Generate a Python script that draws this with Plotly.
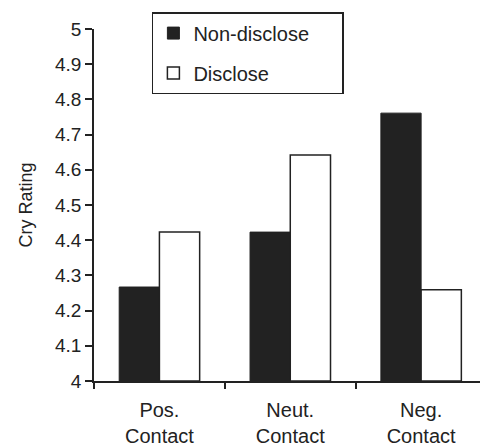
import plotly.graph_objects as go

categories = ["Pos.<br>Contact", "Neut.<br>Contact", "Neg.<br>Contact"]
series_names = ["Non-disclose", "Disclose"]
non_disclose = [4.267, 4.423, 4.761]
disclose = [4.423, 4.642, 4.259]
y_ticks = [4, 4.1, 4.2, 4.3, 4.4, 4.5, 4.6, 4.7, 4.8, 4.9, 5]
y_tick_labels = ["4", "4.1", "4.2", "4.3", "4.4", "4.5", "4.6", "4.7", "4.8", "4.9", "5"]

ink = "#222222"
font_family = "Liberation Sans, Arial, sans-serif"
pad = "\u00a0" * 5

fig = go.Figure()
fig.add_trace(go.Bar(
    x=categories, y=[v - 4 for v in non_disclose], base=4, name=series_names[0] + pad,
    marker=dict(color=ink, line=dict(color=ink, width=1)),
    legendgroup="a",
))
fig.add_trace(go.Bar(
    x=categories, y=[v - 4 for v in disclose], base=4, name=series_names[1],
    marker=dict(color="white", line=dict(color=ink, width=1.5)),
    legendgroup="b",
))

fig.update_layout(
    width=480, height=447,
    margin=dict(l=94, r=0, t=29, b=66, autoexpand=False),
    paper_bgcolor="white", plot_bgcolor="white",
    barmode="group", bargap=0.385, bargroupgap=0,
    font=dict(family=font_family, color=ink, size=18),
    showlegend=True,
    legend=dict(
        x=0.15, y=1.048, xanchor="left", yanchor="top",
        bordercolor=ink, borderwidth=1.5, bgcolor="white",
        font=dict(size=20, color=ink),
        traceorder="grouped", tracegroupgap=11,
        itemwidth=30,
    ),
    xaxis=dict(
        type="category", range=[-0.5, 2.45],
        showline=True, linecolor=ink, linewidth=1.5,
        ticks="outside", tickson="boundaries", ticklen=6, tickcolor=ink, tickwidth=1.5,
        showgrid=False, zeroline=False,
        tickfont=dict(size=20, color=ink),
        ticklabelstandoff=10,
    ),
    yaxis=dict(
        range=[4, 5],
        tickvals=y_ticks, ticktext=y_tick_labels,
        showline=True, linecolor=ink, linewidth=1.5,
        ticks="outside", ticklen=7, tickcolor=ink, tickwidth=1.5,
        showgrid=False, zeroline=False,
        tickfont=dict(size=19, color=ink),
        title=dict(text="Cry Rating", font=dict(size=18, color=ink), standoff=18),
    ),
)

fig.write_html("out.html", config={"displayModeBar": False},
               post_script="document.body.style.margin='0';")
